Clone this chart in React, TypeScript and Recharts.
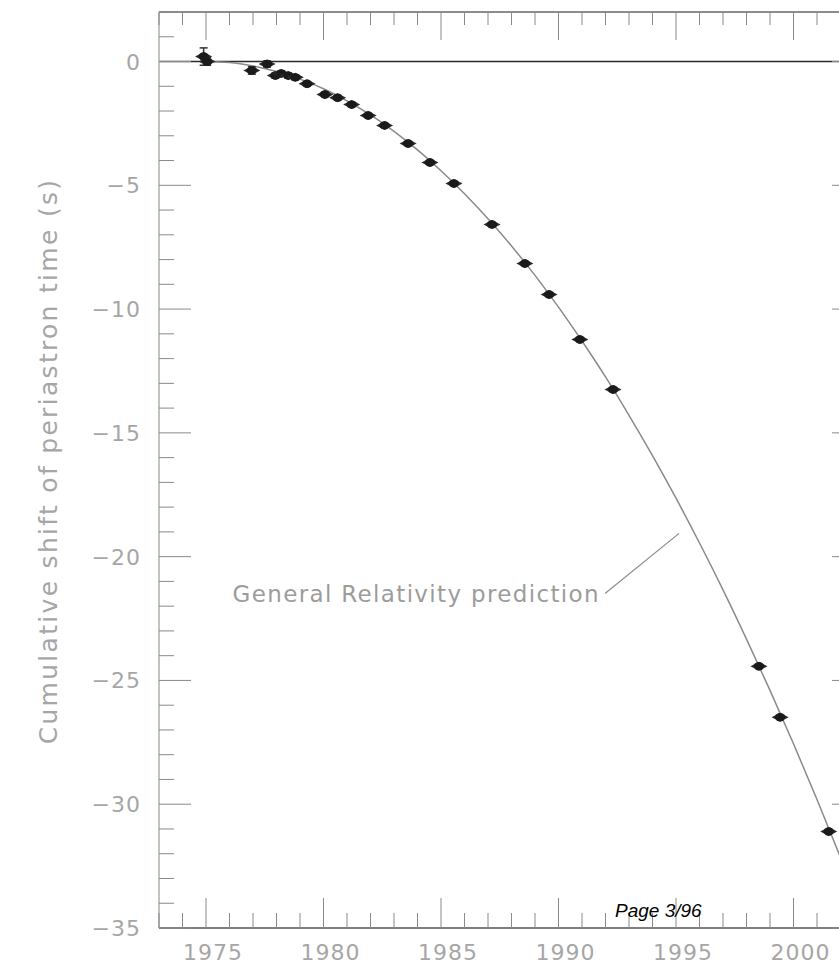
import React from "react";
import {
  ComposedChart,
  Line,
  Scatter,
  XAxis,
  YAxis,
  ReferenceLine,
  ReferenceDot,
  ErrorBar,
} from "recharts";

// GR prediction curve
const grYears = [
  1975, 1976, 1977, 1978, 1979, 1980, 1981, 1982, 1983, 1984, 1985, 1986, 1987, 1988, 1989,
  1990, 1991, 1992, 1993, 1994, 1995, 1996, 1997, 1998, 1999, 2000, 2001, 2002, 2003,
];
const grShift = [
  0, -0.04, -0.18, -0.4, -0.71, -1.1, -1.59, -2.16, -2.82, -3.57, -4.41, -5.34, -6.35, -7.45,
  -8.64, -9.92, -11.29, -12.74, -14.29, -15.92, -17.64, -19.45, -21.34, -23.33, -25.4, -27.56,
  -29.81, -32.15, -34.57,
];

// measured periastron shifts
const obsYears = [
  1974.9, 1975.05, 1976.95, 1977.6, 1977.95, 1978.2, 1978.5, 1978.8, 1979.3, 1980.06, 1980.6,
  1981.2, 1981.9, 1982.6, 1983.6, 1984.53, 1985.55, 1987.17, 1988.57, 1989.6, 1990.91, 1992.32,
  1998.53, 1999.43, 2001.5,
];
const obsShift = [
  0.2, 0.0, -0.36, -0.1, -0.57, -0.48, -0.57, -0.64, -0.9, -1.33, -1.46, -1.74, -2.18, -2.58,
  -3.31, -4.08, -4.93, -6.58, -8.16, -9.41, -11.23, -13.25, -24.43, -26.49, -31.1,
];
const obsErr = [
  0.35, 0.15, 0.15, 0.12, 0.1, 0.1, 0.1, 0.1, 0.08, 0.08, 0.08, 0.08, 0.06, 0.06, 0.06, 0.06,
  0.05, 0.05, 0.05, 0.05, 0.05, 0.05, 0.05, 0.05, 0.05,
];

const xTicks = [
  1973, 1974, 1975, 1976, 1977, 1978, 1979, 1980, 1981, 1982, 1983, 1984, 1985, 1986, 1987,
  1988, 1989, 1990, 1991, 1992, 1993, 1994, 1995, 1996, 1997, 1998, 1999, 2000, 2001, 2002,
  2003,
];
const yTicks = [
  2, 1, 0, -1, -2, -3, -4, -5, -6, -7, -8, -9, -10, -11, -12, -13, -14, -15, -16, -17, -18, -19,
  -20, -21, -22, -23, -24, -25, -26, -27, -28, -29, -30, -31, -32, -33, -34, -35,
];

const curve = grYears.map((year, i) => ({ year, shift: grShift[i] }));
const points = obsYears.map((year, i) => ({ year, shift: obsShift[i], err: obsErr[i] }));

const LEFT = 159;
const RIGHT = 864;
const TOP = 12;
const BOTTOM = 928;
const labelFont = "'DejaVu Sans', sans-serif";
const labelColor = "#a6a6a6";
const tickColor = "#8a8a8a";

function XTick(props: any) {
  const { x, payload } = props;
  const v = payload.value;
  const major = v % 5 === 0;
  return (
    <g>
      <line x1={x} x2={x} y1={BOTTOM} y2={BOTTOM - (major ? 30 : 15)} stroke={tickColor} />
      <line x1={x} x2={x} y1={TOP} y2={TOP + (major ? 28 : 13)} stroke={tickColor} />
      {major && (
        <text
          x={x + 7}
          y={960}
          textAnchor="middle"
          fontFamily={labelFont}
          fontSize={22}
          letterSpacing={1}
          fill={labelColor}
        >
          {v}
        </text>
      )}
    </g>
  );
}

function YTick(props: any) {
  const { y, payload } = props;
  const v = payload.value;
  const major = v % 5 === 0;
  return (
    <g>
      <line x1={LEFT} x2={LEFT + (major ? 32 : 15)} y1={y} y2={y} stroke={tickColor} />
      <line x1={RIGHT} x2={RIGHT - (major ? 32 : 15)} y1={y} y2={y} stroke={tickColor} />
      {major && (
        <text
          x={141}
          y={y + 8}
          textAnchor="end"
          fontFamily={labelFont}
          fontSize={22}
          letterSpacing={1}
          fill={labelColor}
        >
          {v === 0 ? "0" : "\u2212" + Math.abs(v)}
        </text>
      )}
    </g>
  );
}

function YTitle() {
  return (
    <text
      transform="translate(57,461) rotate(-90)"
      textAnchor="middle"
      fontFamily={labelFont}
      fontSize={25}
      letterSpacing={2.3}
      fill={labelColor}
    >
      Cumulative shift of periastron time (s)
    </text>
  );
}

function Dot(props: any) {
  const { cx, cy } = props;
  return (
    <g>
      <path
        d={`M${cx - 8.5},${cy} L${cx},${cy - 4.5} L${cx + 8.5},${cy} L${cx},${cy + 4.5} Z`}
        fill="#2a2a2a"
      />
      <ellipse cx={cx} cy={cy} rx={5} ry={4.2} fill="#1a1a1a" />
    </g>
  );
}

function GrLabel(props: any) {
  const { viewBox } = props;
  return (
    <text
      x={viewBox.x - 2}
      y={viewBox.y + 8}
      textAnchor="end"
      fontFamily={labelFont}
      fontSize={23}
      letterSpacing={1.35}
      fill="#9c9c9c"
    >
      General Relativity prediction
    </text>
  );
}

export default function App() {
  return (
    <div
      style={{
        position: "fixed",
        left: 0,
        top: 0,
        width: 839,
        height: 972,
        overflow: "hidden",
        background: "#fff",
      }}
    >
      <ComposedChart
        width={900}
        height={972}
        data={curve}
        margin={{ top: TOP, right: 900 - RIGHT, bottom: 0, left: 0 }}
      >
        <XAxis
          dataKey="year"
          type="number"
          domain={[1973, 2003]}
          ticks={xTicks}
          interval={0}
          height={972 - BOTTOM}
          tick={<XTick />}
          tickLine={false}
          axisLine={{ stroke: "#555", strokeWidth: 1.5 }}
          allowDataOverflow
        />
        <YAxis
          type="number"
          domain={[-35, 2]}
          ticks={yTicks}
          interval={0}
          width={LEFT}
          tick={<YTick />}
          tickLine={false}
          axisLine={{ stroke: "#a9b2a6", strokeWidth: 1.5 }}
          label={<YTitle />}
          allowDataOverflow
        />
        <ReferenceLine y={2} stroke="#666" strokeWidth={1.5} />
        <ReferenceLine x={2003} stroke="#666" strokeWidth={1.5} />
        <ReferenceLine y={0} stroke="#2a2a2a" strokeWidth={1.5} />
        <ReferenceLine
          segment={[
            { x: 1991.98, y: -21.49 },
            { x: 1995.13, y: -19.06 },
          ]}
          stroke="#8c8c8c"
          strokeWidth={1.2}
        />
        <ReferenceDot
          x={1991.85}
          y={-21.5}
          r={0}
          fill="none"
          stroke="none"
          label={<GrLabel />}
        />
        <Line
          dataKey="shift"
          type="monotone"
          stroke="#8a8a8a"
          strokeWidth={1.5}
          dot={false}
          activeDot={false}
          isAnimationActive={false}
        />
        <Scatter data={points} dataKey="shift" shape={<Dot />} isAnimationActive={false}>
          <ErrorBar dataKey="err" direction="y" width={4} stroke="#333" strokeWidth={1.5} />
        </Scatter>
      </ComposedChart>
      <svg
        width={839}
        height={972}
        style={{ position: "absolute", left: 0, top: 0, pointerEvents: "none" }}
      >
        <text
          x={615}
          y={917}
          fontFamily="'Liberation Sans', Arial, sans-serif"
          fontStyle="italic"
          fontSize={19}
          fill="#000"
        >
          Page 3/96
        </text>
      </svg>
    </div>
  );
}
